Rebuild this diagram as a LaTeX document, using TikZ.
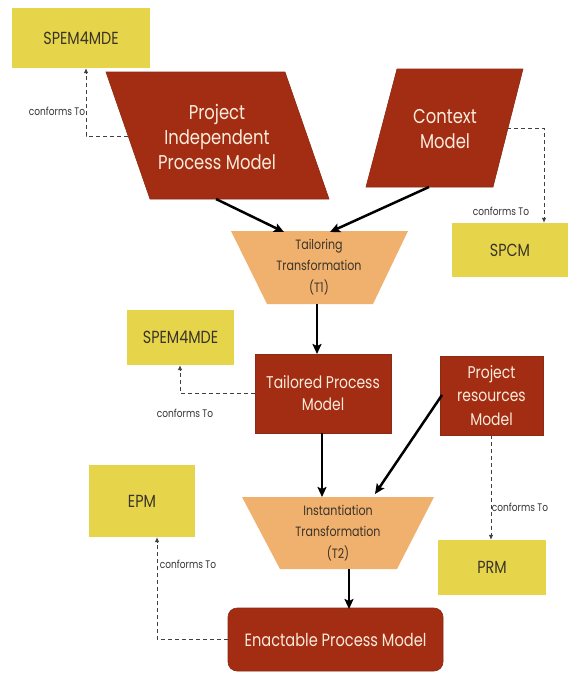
\documentclass[tikz,border=0pt]{standalone}
\usepackage{fontspec}
\setmainfont{Poppins}[FakeStretch=0.82]
\usetikzlibrary{arrows.meta}
\definecolor{mred}{HTML}{A32D12}
\definecolor{mredline}{HTML}{8C2A14}
\definecolor{myel}{HTML}{E6D54B}
\definecolor{morange}{HTML}{F0B06E}
\definecolor{mtxt}{HTML}{FBEBDD}
\definecolor{dtxt}{HTML}{3A3428}
\begin{document}
\begin{tikzpicture}[x=1pt,y=-1pt,
  redshape/.style={fill=mred, draw=mredline, line width=0.6pt},
  orshape/.style={fill=morange},
  yelbox/.style={fill=myel, inner sep=0pt, text=dtxt, font=\fontsize{17.5}{18}\selectfont},
  redbox/.style={fill=mred, draw=mredline, line width=0.6pt, inner sep=0pt, align=center, text=mtxt},
  bigtxt/.style={text=mtxt, align=center, font=\fontsize{20}{25}\selectfont},
  midtxt/.style={text=dtxt, align=center, font=\fontsize{13.5}{21.5}\selectfont},
  flow/.style={-{Stealth[length=10pt,width=9pt,inset=2pt]}, line width=2.5pt},
  conf/.style={dashed, dash pattern=on 4pt off 3pt, -{Latex[length=5pt,width=4.5pt]}, line width=0.8pt, draw=black!75},
  lbl/.style={font=\fontsize{11}{12}\selectfont, text=black!80}
]
\useasboundingbox (0,0) rectangle (569,673);

% yellow metamodel boxes
\node[yelbox, minimum width=138pt, minimum height=60pt] (spem1) at (81,38) {SPEM4MDE};
\node[yelbox, minimum width=116pt, minimum height=54pt] (spcm) at (510,250) {SPCM};
\node[yelbox, minimum width=107pt, minimum height=55pt] (spem2) at (180.5,337.5) {SPEM4MDE};
\node[yelbox, minimum width=108pt, minimum height=55pt] (prm) at (492,567.5) {PRM};
\node[yelbox, minimum width=106pt, minimum height=72pt] (epm) at (142,501) {EPM};

% parallelograms
\filldraw[redshape] (106,72) -- (285,72) -- (329,199) -- (150,199) -- cycle;
\node[bigtxt] (pipm) at (217,137) {Project\\Independent\\Process Model};
\filldraw[redshape] (397,69) -- (523,69) -- (493,187) -- (366,187) -- cycle;
\node[bigtxt] (ctx) at (445,129) {Context\\Model};

% trapezoids
\fill[orshape] (231,231) -- (408,231) -- (373,304) -- (267,304) -- cycle;
\node[midtxt] (tt1) at (319,267) {Tailoring\\Transformation\\(T1)};
\fill[orshape] (242,497) -- (434,497) -- (397,569) -- (280,569) -- cycle;
\node[midtxt] (tt2) at (338,533) {Instantiation\\Transformation\\(T2)};

% red boxes
\node[redbox, minimum width=136pt, minimum height=79pt, font=\fontsize{17}{22}\selectfont] (tpm) at (323,393.5) {Tailored Process\\Model};
\node[redbox, minimum width=103pt, minimum height=79pt, font=\fontsize{17}{23.5}\selectfont] (prmodel) at (491.5,395.5) {Project\\resources\\Model};
\node[redbox, minimum width=215pt, minimum height=63pt, rounded corners=9pt, font=\fontsize{17.8}{22}\selectfont] (epmodel) at (335.5,639.5) {Enactable Process Model};

% connector anchors
\coordinate (pipmB) at (216,199);
\coordinate (tt1A) at (284,232);
\coordinate (ctxB) at (429,187);
\coordinate (tt1B) at (330,232);
\coordinate (tt1O) at (317,304);
\coordinate (tpmI) at (317,354);
\coordinate (tpmO) at (322,433);
\coordinate (tt2A) at (322,497);
\coordinate (prmL) at (442,395);
\coordinate (tt2B) at (375,494);
\coordinate (tt2O) at (349,569);
\coordinate (epmI) at (349,609);

\coordinate (pipmL) at (128,136);
\coordinate (ctxR) at (507,128);

% flows
\draw[flow] (pipmB) -- (tt1A);
\draw[flow] (ctxB) -- (tt1B);
\draw[flow] (tt1O) -- (tpmI);
\draw[flow] (tpmO) -- (tt2A);
\draw[flow] (prmL) -- (tt2B);
\draw[flow] (tt2O) -- (epmI);

% conforms To
\draw[conf] (pipmL) -| (spem1.south -| 86,0);
\node[lbl] (c1) at (57,111) {conforms To};
\draw[conf] (ctxR) -| (spcm.north -| 544,0);
\node[lbl] (c2) at (501,211) {conforms To};
\draw[conf] (tpm.west) -| (spem2.south -| 180,0);
\node[lbl] (c3) at (185,413) {conforms To};
\draw[conf] (prmodel.south -| 491,0) -- (prm.north -| 491,0);
\node[lbl] (c4) at (520,507) {conforms To};
\draw[conf] (epmodel.west) -| (epm.south -| 157,0);
\node[lbl] (c5) at (188,564) {conforms To};
\end{tikzpicture}
\end{document}
